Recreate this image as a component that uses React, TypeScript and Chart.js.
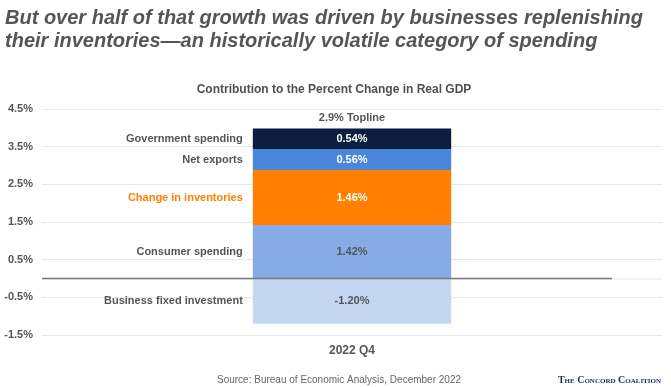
import React, { useEffect, useRef } from "react";
import { Chart, registerables } from "chart.js";

Chart.register(...registerables);

const categories = ["2022 Q4"];
const seriesNames = [
  "Business fixed investment",
  "Consumer spending",
  "Change in inventories",
  "Net exports",
  "Government spending",
];
const seriesValues = [-1.2, 1.42, 1.46, 0.56, 0.54];
const valueLabels = ["-1.20%", "1.42%", "1.46%", "0.56%", "0.54%"];
const toplineLabel = "2.9% Topline";
const yMin = -1.5;
const yMax = 4.5;
const yStep = 1;

const barColors = ["#c3d7f3", "#86abe6", "#ff7f00", "#4a86d9", "#0c1f41"];
const valueColors = ["#555555", "#555555", "#ffffff", "#ffffff", "#ffffff"];
const nameColors = ["#555555", "#555555", "#ff7f00", "#555555", "#555555"];

const FONT = "'Liberation Sans', Arial, Helvetica, sans-serif";

const textPlugin = {
  id: "textPlugin",
  beforeDatasetsDraw(chart: any) {
    const { ctx, chartArea } = chart;
    const y0 = chart.scales.y.getPixelForValue(0);
    ctx.save();
    ctx.strokeStyle = "#e8e8e8";
    ctx.lineWidth = 1;
    ctx.beginPath();
    ctx.moveTo(chartArea.left, y0 + 0.5);
    ctx.lineTo(chartArea.right, y0 + 0.5);
    ctx.stroke();
    ctx.restore();
  },
  afterDatasetsDraw(chart: any) {
    const { ctx, chartArea } = chart;
    const y0 = chart.scales.y.getPixelForValue(0);
    ctx.save();
    ctx.strokeStyle = "#7a7a7a";
    ctx.lineWidth = 1.5;
    ctx.beginPath();
    ctx.moveTo(chartArea.left, y0);
    ctx.lineTo(chartArea.right - 50, y0);
    ctx.stroke();

    let topY = Infinity;
    let centerX = 0;
    chart.data.datasets.forEach((ds: any, i: number) => {
      const meta = chart.getDatasetMeta(i);
      const el = meta.data[0];
      if (!el) return;
      const { x, y, base, width } = el.getProps(["x", "y", "base", "width"], true);
      const cy = (y + base) / 2;
      topY = Math.min(topY, y, base);
      centerX = x;
      ctx.font = `bold 11px ${FONT}`;
      ctx.textBaseline = "middle";
      ctx.textAlign = "center";
      ctx.fillStyle = valueColors[i];
      ctx.fillText(valueLabels[i], x, cy);
      ctx.textAlign = "right";
      ctx.fillStyle = nameColors[i];
      ctx.fillText(seriesNames[i], x - width / 2 - 10, cy);
    });
    ctx.font = `bold 11px ${FONT}`;
    ctx.textAlign = "center";
    ctx.textBaseline = "middle";
    ctx.fillStyle = "#555555";
    ctx.fillText(toplineLabel, centerX, topY - 11);

    // headline
    ctx.textAlign = "left";
    ctx.textBaseline = "middle";
    ctx.fillStyle = "#555555";
    ctx.font = `italic bold 20px ${FONT}`;
    ctx.fillText("But over half of that growth was driven by businesses replenishing", 5, 18);
    ctx.fillText("their inventories\u2014an historically volatile category of spending", 5, 41);

    ctx.font = `bold 12px ${FONT}`;
    ctx.textAlign = "center";
    ctx.fillStyle = "#505050";
    ctx.fillText("Contribution to the Percent Change in Real GDP", 334, 90);

    ctx.font = `10px ${FONT}`;
    ctx.fillStyle = "#666666";
    ctx.fillText("Source: Bureau of Economic Analysis, December 2022", 339, 380);

    ctx.textAlign = "right";
    ctx.fillStyle = "#1d2a5c";
    ctx.font = `small-caps bold 10px 'Liberation Serif', 'DejaVu Serif', serif`;
    ctx.fillText("The Concord Coalition", 661, 380);
    ctx.restore();
  },
};

export default function App() {
  const ref = useRef<HTMLCanvasElement | null>(null);
  useEffect(() => {
    document.body.style.margin = "0";
    const canvas = ref.current;
    if (!canvas) return;
    const chart = new Chart(canvas, {
      type: "bar",
      data: {
        labels: categories,
        datasets: seriesNames.map((name, i) => ({
          label: name,
          data: [seriesValues[i]],
          backgroundColor: barColors[i],
          borderWidth: 0,
          categoryPercentage: 1,
          barPercentage: 0.32,
        })),
      },
      options: {
        animation: false,
        responsive: false,
        maintainAspectRatio: false,
        devicePixelRatio: 1,
        layout: { padding: { top: 109, right: 9, left: 0, bottom: 0 } },
        plugins: {
          legend: { display: false },
          tooltip: { enabled: false },
          title: { display: false },
        },
        scales: {
          x: {
            stacked: true,
            grid: { display: false, drawTicks: false },
            border: { display: false },
            ticks: {
              color: "#555555",
              font: { family: FONT, size: 12, weight: "bold" },
              padding: 8,
            },
            afterFit: (s: any) => {
              s.height = 52;
            },
          },
          y: {
            stacked: true,
            min: yMin,
            max: yMax,
            grid: { color: "#e8e8e8", lineWidth: 1, drawTicks: false },
            border: { display: false },
            ticks: {
              stepSize: yStep,
              color: "#555555",
              font: { family: FONT, size: 11, weight: "bold" },
              padding: 9,
              callback: (v: any) => `${Number(v).toFixed(1)}%`,
            },
            afterFit: (s: any) => {
              s.width = 42;
            },
          },
        },
      },
      plugins: [textPlugin],
    });
    return () => chart.destroy();
  }, []);
  return (
    <div style={{ width: 671, height: 387, background: "#fff" }}>
      <canvas ref={ref} width={671} height={387} style={{ display: "block", width: 671, height: 387 }} />
    </div>
  );
}
